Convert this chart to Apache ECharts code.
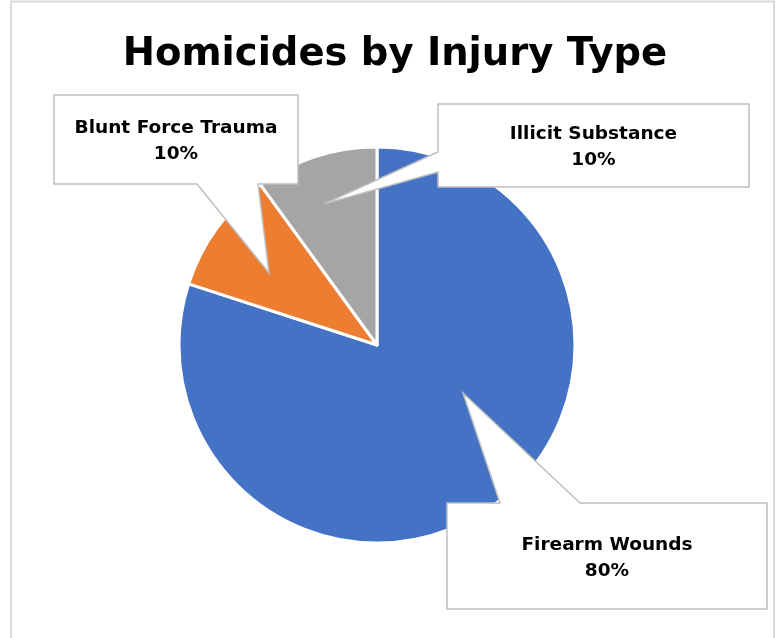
<!DOCTYPE html>
<html>
<head>
<meta charset="utf-8">
<script src="https://cdn.jsdelivr.net/npm/echarts@6/dist/echarts.min.js"></script>
<style>html,body{margin:0;padding:0;background:#fff}#c{width:779px;height:638px}</style>
</head>
<body>
<div id="c"></div>
<script>
var categories = ['Firearm Wounds', 'Blunt Force Trauma', 'Illicit Substance'];
var values = [80, 10, 10];
var colors = ['#4472C4', '#ED7D31', '#A5A5A5'];
var titleText = 'Homicides by Injury Type';

// callout layout: box [x0,y0,x1,y1], side of the pointer, pointer base, tip
var callouts = [
  { box: [447, 503, 767, 609], side: 'top', base: [500, 580], tip: [463, 393] },
  { box: [54, 95, 298, 184], side: 'bottom', base: [197, 258], tip: [269, 273] },
  { box: [438, 104, 749, 187], side: 'left', base: [152, 172], tip: [324, 204] }
];
var FONT = 'DejaVu Sans';

function calloutPoints(c) {
  var x0 = c.box[0], y0 = c.box[1], x1 = c.box[2], y1 = c.box[3];
  var b = c.base, t = c.tip;
  if (c.side === 'top') return [[x0, y0], [b[0], y0], t, [b[1], y0], [x1, y0], [x1, y1], [x0, y1]];
  if (c.side === 'bottom') return [[x0, y0], [x1, y0], [x1, y1], [b[1], y1], t, [b[0], y1], [x0, y1]];
  return [[x0, y0], [x1, y0], [x1, y1], [x0, y1], [x0, b[1]], t, [x0, b[0]]];
}

var data = categories.map(function (n, i) { return { name: n, value: values[i], itemStyle: { color: colors[i] } }; });
var labelData = categories.map(function (n, i) { return { name: n, value: values[i] }; });

var graphics = [{
  type: 'rect', z: 1, silent: true,
  shape: { x: 11, y: 1.5, width: 763, height: 700 },
  style: { fill: 'none', stroke: '#d9d9d9', lineWidth: 2 }
}];
callouts.forEach(function (c) {
  graphics.push({
    type: 'polygon', z: 10, silent: true,
    shape: { points: calloutPoints(c) },
    style: { fill: '#ffffff', stroke: '#bfbfbf', lineWidth: 1.5 }
  });
});

var chart = echarts.init(document.getElementById('c'), null, { renderer: 'canvas' });
chart.setOption({
  animation: false,
  backgroundColor: '#ffffff',
  title: {
    text: titleText, left: 390, top: 30, textAlign: 'center',
    textStyle: { fontFamily: FONT, fontWeight: 'bold', fontSize: 38.5, color: '#000' }
  },
  graphic: graphics,
  series: [{
    type: 'pie', z: 2, silent: true,
    center: [377, 345], radius: 198,
    startAngle: 90, clockwise: true,
    itemStyle: { borderColor: '#ffffff', borderWidth: 3 },
    label: { show: false }, labelLine: { show: false },
    data: data
  }, {
    type: 'pie', z: 20, silent: true,
    center: [377, 345], radius: 198,
    startAngle: 90, clockwise: true,
    itemStyle: { color: 'rgba(0,0,0,0)' },
    labelLine: { show: false },
    label: {
      show: true, formatter: '{b}\n{d}%', overflow: 'none', width: 300,
      fontFamily: FONT, fontWeight: 'bold', fontSize: 18.5, lineHeight: 26, color: '#000', align: 'center'
    },
    labelLayout: function (p) {
      var c = callouts[p.dataIndex];
      return { x: (c.box[0] + c.box[2]) / 2, y: (c.box[1] + c.box[3]) / 2 + 2, align: 'center', verticalAlign: 'middle' };
    },
    data: labelData
  }]
});
</script>
</body>
</html>
